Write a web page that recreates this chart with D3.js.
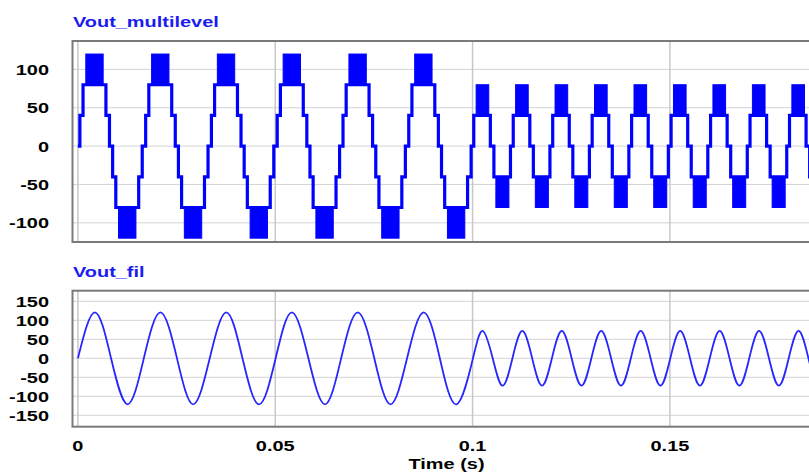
<!DOCTYPE html>
<html lang="en">
<head>
<meta charset="utf-8">
<title>Vout_multilevel / Vout_fil</title>
<script src="https://d3js.org/d3.v7.min.js"></script>
<style>
  body { margin: 0; background: #fff; }
  text { font-family: "Liberation Sans", Arial, sans-serif; font-weight: bold; }
</style>
</head>
<body>
<div id="chart"></div>
<script>
// axis ticks
var xTicks = [0, 0.05, 0.1, 0.15];
var xTickLabels = ["0", "0.05", "0.1", "0.15"];
var topYTicks = [100, 50, 0, -50, -100];
var botYTicks = [150, 100, 50, 0, -50, -100, -150];

// Vout_multilevel, 60 Hz part: one cycle (offset s, level V)
var ml60Offsets = [0, 0.0005, 0.0013, 0.0071, 0.0080, 0.0088, 0.0096, 0.0154, 0.0163];
var ml60Levels  = [0, 40, 80, 40, 0, -40, -80, -40, 0];
// switching blocks [start offset, end offset, low level, high level]
var ml60Blocks  = [[0.0020, 0.0064, 80, 120], [0.0103, 0.0147, -120, -80]];
var ml60Starts  = [0, 0.01667, 0.03333, 0.05, 0.06667, 0.08333];

// Vout_multilevel, 100 Hz part
var ml100Offsets = [0, 0.0003, 0.0045, 0.0054, 0.0096];
var ml100Levels  = [0, 40, 0, -40, 0];
var ml100Blocks  = [[0.0009, 0.0041, 40, 80], [0.0059, 0.0092, -80, -40]];
var ml100Starts  = [0.1, 0.11, 0.12, 0.13, 0.14, 0.15, 0.16, 0.17, 0.18];

// Vout_fil: zero crossings and peaks
var filT = [0, 0.0043, 0.0084, 0.0126, 0.0167, 0.0209, 0.0251, 0.0292, 0.0334, 0.0376,
            0.0417, 0.0459, 0.0501, 0.0542, 0.0584, 0.0626, 0.0667, 0.0709, 0.0751, 0.0792,
            0.0834, 0.0876, 0.0917, 0.0959, 0.1001,
            0.1026, 0.1051, 0.1076, 0.1101, 0.1126, 0.1151, 0.1176, 0.1201, 0.1226, 0.1251,
            0.1276, 0.1301, 0.1326, 0.1351, 0.1376, 0.1401, 0.1426, 0.1451, 0.1476, 0.1501,
            0.1526, 0.1551, 0.1576, 0.1601, 0.1626, 0.1651, 0.1676, 0.1701, 0.1726, 0.1751,
            0.1776, 0.1801, 0.1826, 0.1851, 0.1876, 0.1901];
var filV = [0, 121, 0, -121, 0, 121, 0, -121, 0, 121,
            0, -121, 0, 121, 0, -121, 0, 121, 0, -121,
            0, 121, 0, -121, 0,
            72, 0, -72, 0, 72, 0, -72, 0, 72, 0,
            -72, 0, 72, 0, -72, 0, 72, 0, -72, 0,
            72, 0, -72, 0, 72, 0, -72, 0, 72, 0,
            -72, 0, 72, 0, -72, 0];

var width = 809, height = 473;
var stretch = 1.33;   // the screenshot text is wide

var svg = d3.select("#chart")
  .append("svg")
    .attr("width", width)
    .attr("height", height);

var x = d3.scaleLinear().domain([-0.00137, 0.186]).range([72.5, 812]);
var yTop = d3.scaleLinear().domain([-125, 137]).range([242, 41]);
var yBot = d3.scaleLinear().domain([-180, 178]).range([426.7, 290.7]);

// wide bold label helper
function label(parent, str, px, py, anchor, color) {
  return parent.append("text")
    .attr("transform", "translate(" + px + "," + py + ") scale(" + stretch + ",1)")
    .attr("text-anchor", anchor)
    .attr("font-size", "15px")
    .attr("fill", color || "#000")
    .text(str);
}

function panel(y, yTicks, id, title) {
  var top = y.range()[1], bottom = y.range()[0];
  var left = x.range()[0], right = x.range()[1];
  var g = svg.append("g");

  g.append("clipPath").attr("id", id)
    .append("rect")
      .attr("x", left).attr("y", top)
      .attr("width", right - left).attr("height", bottom - top);

  // grid
  g.selectAll(".hgrid").data(yTicks).enter().append("line")
    .attr("x1", left).attr("x2", right)
    .attr("y1", function(d) { return y(d); })
    .attr("y2", function(d) { return y(d); })
    .attr("stroke", "#a8a8a8")
    .attr("stroke-width", 1)
    .attr("stroke-dasharray", "1,1");
  g.selectAll(".vgrid").data(xTicks).enter().append("line")
    .attr("y1", top).attr("y2", bottom)
    .attr("x1", function(d) { return x(d); })
    .attr("x2", function(d) { return x(d); })
    .attr("stroke", "#c8c8c8")
    .attr("stroke-width", 1.5);

  // y tick labels
  yTicks.forEach(function(d) {
    label(g, d, 49, y(d) + 5.4, "end");
  });

  label(g, title, 73, top - 14, "start", "#1c1cf0");

  var plot = g.append("g").attr("clip-path", "url(#" + id + ")");
  return { g: g, plot: plot, top: top, bottom: bottom, left: left, right: right };
}

function frame(p) {
  p.g.append("rect")
    .attr("x", p.left).attr("y", p.top)
    .attr("width", p.right - p.left).attr("height", p.bottom - p.top)
    .attr("fill", "none")
    .attr("stroke", "#7a7a7a")
    .attr("stroke-width", 2);
}

// ---- top panel: multilevel staircase
var pTop = panel(yTop, topYTicks, "clipTop", "Vout_multilevel");

var mlPoints = [], mlBlocks = [];
ml60Starts.forEach(function(s) {
  ml60Offsets.forEach(function(o, i) { mlPoints.push([s + o, ml60Levels[i]]); });
  ml60Blocks.forEach(function(b) { mlBlocks.push([s + b[0], s + b[1], b[2], b[3]]); });
});
ml100Starts.forEach(function(s) {
  ml100Offsets.forEach(function(o, i) { mlPoints.push([s + o, ml100Levels[i]]); });
  ml100Blocks.forEach(function(b) { mlBlocks.push([s + b[0], s + b[1], b[2], b[3]]); });
});

pTop.plot.selectAll(".block").data(mlBlocks).enter().append("rect")
  .attr("x", function(d) { return x(d[0]); })
  .attr("width", function(d) { return x(d[1]) - x(d[0]); })
  .attr("y", function(d) { return yTop(d[3]); })
  .attr("height", function(d) { return yTop(d[2]) - yTop(d[3]); })
  .attr("fill", "#0000ff")
  .attr("stroke", "#0000ff")
  .attr("stroke-width", 1);

pTop.plot.append("path")
  .datum(mlPoints)
  .attr("fill", "none")
  .attr("stroke", "#0000ff")
  .attr("stroke-width", 3.2)
  .attr("d", d3.line()
    .curve(d3.curveStepAfter)
    .x(function(d) { return x(d[0]); })
    .y(function(d) { return yTop(d[1]); }));

frame(pTop);

// ---- bottom panel: filtered output
var pBot = panel(yBot, botYTicks, "clipBot", "Vout_fil");

pBot.plot.append("path")
  .datum(filT.map(function(t, i) { return [t, filV[i]]; }))
  .attr("fill", "none")
  .attr("stroke", "#2626ff")
  .attr("stroke-width", 1.8)
  .attr("d", d3.line()
    .curve(d3.curveNatural)
    .x(function(d) { return x(d[0]); })
    .y(function(d) { return yBot(d[1]); }));

frame(pBot);

// x tick labels and axis title
xTicks.forEach(function(d, i) {
  label(svg, xTickLabels[i], x(d), 451, "middle");
});
label(svg, "Time (s)", 446.5, 469, "middle");
</script>
</body>
</html>
